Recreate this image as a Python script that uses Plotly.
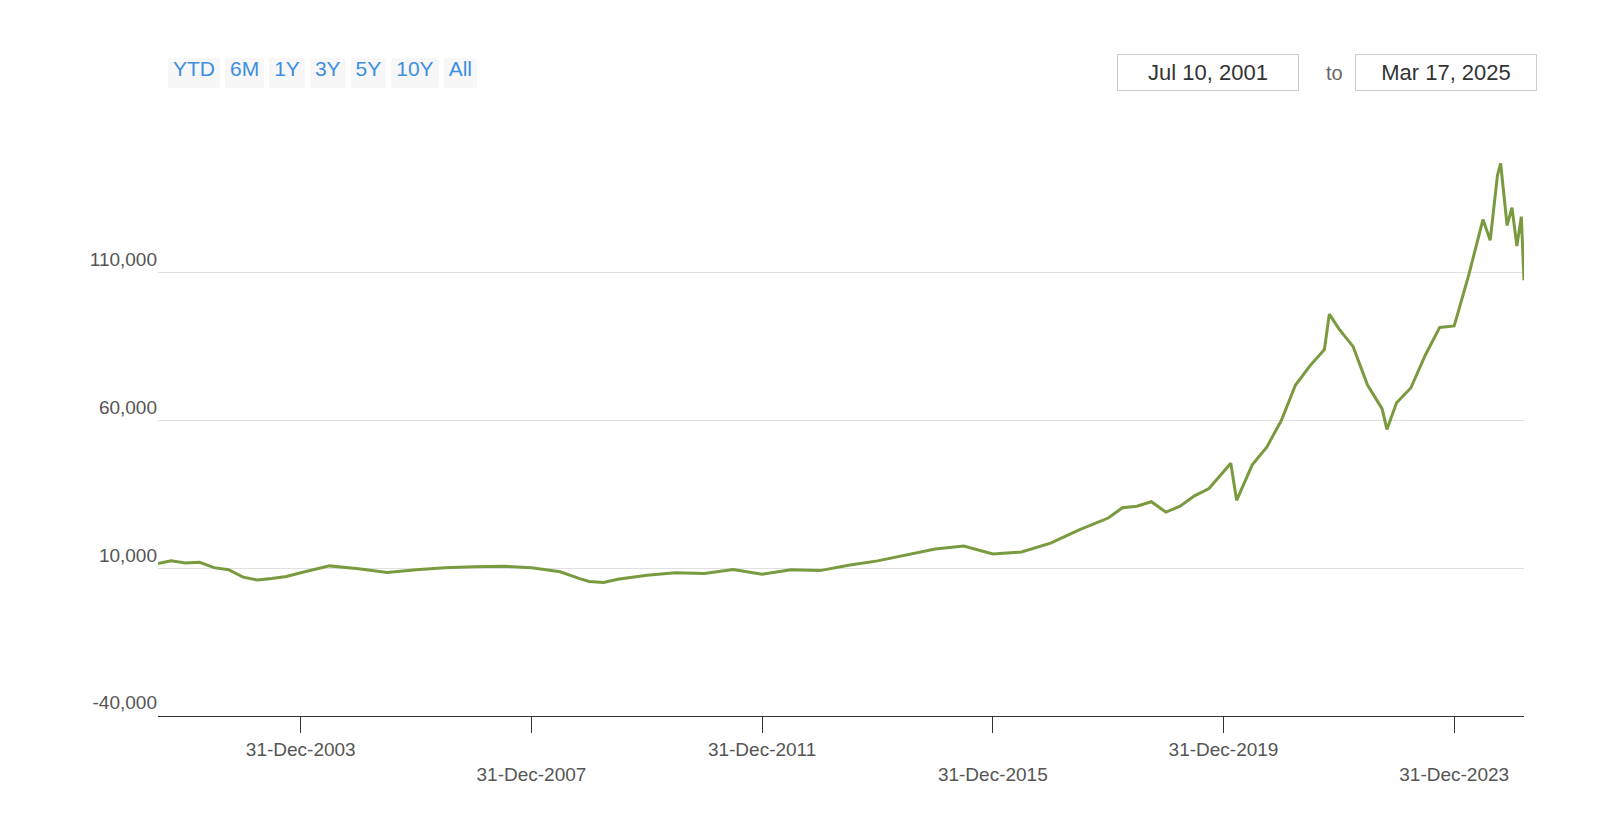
import plotly.graph_objects as go

dates = ["2001-07-10", "2001-10-01", "2001-12-31", "2002-03-31", "2002-06-30", "2002-09-30", "2002-12-31",
         "2003-03-31", "2003-06-30", "2003-09-30", "2003-12-31", "2004-06-30", "2004-12-31",
         "2005-06-30", "2005-12-31", "2006-06-30", "2006-12-31", "2007-06-30", "2007-12-31",
         "2008-06-30", "2008-10-31", "2008-12-31", "2009-03-31", "2009-06-30", "2009-12-31",
         "2010-06-30", "2010-12-31", "2011-06-30", "2011-12-31", "2012-06-30", "2012-12-31",
         "2013-06-30", "2013-12-31", "2014-06-30", "2014-12-31", "2015-06-30", "2015-12-31",
         "2016-06-30", "2016-12-31", "2017-06-30", "2017-12-31", "2018-03-31", "2018-06-30",
         "2018-09-30", "2018-12-31", "2019-03-31", "2019-06-30", "2019-09-30", "2019-12-31",
         "2020-02-15", "2020-03-23", "2020-06-30", "2020-09-30", "2020-12-31", "2021-03-31",
         "2021-06-30", "2021-09-30", "2021-10-31", "2021-12-31", "2022-03-31", "2022-06-30",
         "2022-09-30", "2022-10-31", "2022-12-31", "2023-03-31", "2023-06-30", "2023-09-30",
         "2023-12-31", "2024-03-31", "2024-06-30", "2024-08-15", "2024-09-30", "2024-10-20",
         "2024-11-30", "2024-12-31", "2025-01-31", "2025-02-28", "2025-03-17"]
values = [11600, 12500, 11800, 12000, 10200, 9500, 7000,
          6000, 6500, 7200, 8500, 10800, 9800,
          8600, 9500, 10200, 10500, 10700, 10200,
          8800, 6500, 5500, 5200, 6300, 7600,
          8500, 8200, 9600, 8000, 9500, 9200,
          11000, 12500, 14500, 16500, 17500, 14800,
          15500, 18500, 23000, 27000, 30500, 31000,
          32500, 29000, 31000, 34500, 37000, 42500,
          45500, 33000, 45000, 51000, 60000, 72000,
          78500, 84000, 96000, 91000, 85000, 72000,
          64000, 57000, 66000, 71000, 82000, 91500,
          92000, 109000, 128000, 121000, 143000, 147000,
          126000, 132000, 119000, 129000, 107500]

tick_vals = ["2003-12-31", "2007-12-31", "2011-12-31", "2015-12-31", "2019-12-31", "2023-12-31"]
tick_text = ["31-Dec-2003", "<br>31-Dec-2007", "31-Dec-2011", "<br>31-Dec-2015", "31-Dec-2019", "<br>31-Dec-2023"]

fig = go.Figure()
fig.add_trace(go.Scatter(x=dates, y=values, mode="lines", line=dict(color="#7a9a3f", width=3),
                         showlegend=False))

fig.update_layout(
    width=1606, height=814,
    margin=dict(l=150, r=90, t=117, b=106),
    paper_bgcolor="white", plot_bgcolor="white",
    font=dict(family="Liberation Sans, Arial", size=19, color="#666666"),
    xaxis=dict(
        range=["2001-07-10", "2025-03-17"], tickvals=tick_vals, ticktext=tick_text,
        ticks="outside", ticklen=16, tickcolor="#333333", showline=True, linecolor="#333333",
        linewidth=1, showgrid=False, tickfont=dict(size=19, color="#555555"),
        rangeselector=dict(
            buttons=[dict(count=1, label="YTD", step="year", stepmode="todate"),
                     dict(count=6, label="6M", step="month", stepmode="backward"),
                     dict(count=1, label="1Y", step="year", stepmode="backward"),
                     dict(count=3, label="3Y", step="year", stepmode="backward"),
                     dict(count=5, label="5Y", step="year", stepmode="backward"),
                     dict(count=10, label="10Y", step="year", stepmode="backward"),
                     dict(label="All", step="all")],
            x=0.007, xanchor="left", y=1.088, yanchor="middle",
            bgcolor="#f7f7f7", activecolor="#e6ebf5",
            font=dict(size=21, color="#3d8fe0"),
        ),
    ),
    yaxis=dict(
        range=[-40000, 160000], tickvals=[-40000, 10000, 60000, 110000, 160000],
        ticktext=["-40,000", "10,000", "60,000", "110,000", ""],
        ticklabelposition="outside top", showgrid=True, gridcolor="#e0e0e0",
        zeroline=False, tickfont=dict(size=19, color="#555555"),
    ),
)

for txt, xc, w in [("Jul 10, 2001", 1200, 170), ("Mar 17, 2025", 1438, 170)]:
    fig.add_annotation(text=txt, xref="paper", yref="paper", x=(xc - 150) / 1366, y=1.088,
                       xanchor="center", yanchor="middle",
                       showarrow=False, font=dict(size=22, color="#333333"),
                       bordercolor="#cccccc", borderwidth=1, borderpad=5, width=w, bgcolor="white")
fig.add_annotation(text="to", xref="paper", yref="paper", x=(1326 - 150) / 1366, y=1.088,
                   xanchor="center", yanchor="middle",
                   showarrow=False, font=dict(size=20, color="#666666"))

fig.write_html("out.html")
